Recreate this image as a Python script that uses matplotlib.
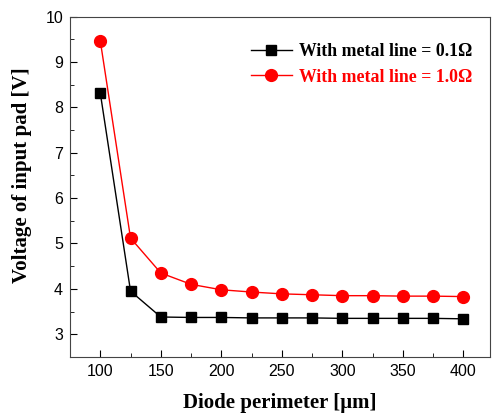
import matplotlib
matplotlib.use("Agg")
import matplotlib.pyplot as plt
from matplotlib.ticker import MultipleLocator

perimeter = [100, 125, 150, 175, 200, 225, 250, 275, 300, 325, 350, 375, 400]
v_01 = [8.32, 3.95, 3.38, 3.37, 3.37, 3.36, 3.36, 3.36, 3.35, 3.35, 3.35, 3.35, 3.34]
v_10 = [9.47, 5.12, 4.35, 4.10, 3.98, 3.93, 3.89, 3.87, 3.85, 3.85, 3.84, 3.84, 3.83]

fig = plt.figure(figsize=(4.93, 4.16), dpi=100)
ax = fig.add_axes([0.142, 0.142, 0.852, 0.818])

ax.plot(perimeter, v_01, '-s', color='black', lw=1.0, ms=7, label='With metal line = 0.1\u03a9')
ax.plot(perimeter, v_10, '-o', color='red', lw=1.0, ms=8.5, label='With metal line = 1.0\u03a9')

ax.set_xlim(75, 422)
ax.set_ylim(2.5, 10)
ax.xaxis.set_major_locator(MultipleLocator(50))
ax.xaxis.set_minor_locator(MultipleLocator(25))
ax.yaxis.set_major_locator(MultipleLocator(1))
ax.yaxis.set_minor_locator(MultipleLocator(0.5))
ax.tick_params(which='both', direction='in', top=False, right=False)
ax.tick_params(which='major', length=5, labelsize=11.5, pad=5)
ax.tick_params(which='minor', length=3)
for lab in ax.get_xticklabels() + ax.get_yticklabels():
    lab.set_family('Liberation Sans')
for s in ax.spines.values():
    s.set_color('#444444')

lab_font = dict(family='Liberation Serif', weight='bold', size=15)
ax.set_xlabel('Diode perimeter [\u03bcm]', labelpad=10, **lab_font)
ax.set_ylabel('Voltage of input pad [V]', **lab_font)
ax.yaxis.set_label_coords(-0.09, 0.534)

leg = ax.legend(loc='upper right', bbox_to_anchor=(0.974, 0.944), borderaxespad=0,
                frameon=False, prop=dict(family='Liberation Serif', weight='bold', size=12.8),
                handlelength=2.3, handletextpad=0.4, labelspacing=0.5)
leg.get_texts()[1].set_color('red')

fig.savefig('out.png', dpi=100)
